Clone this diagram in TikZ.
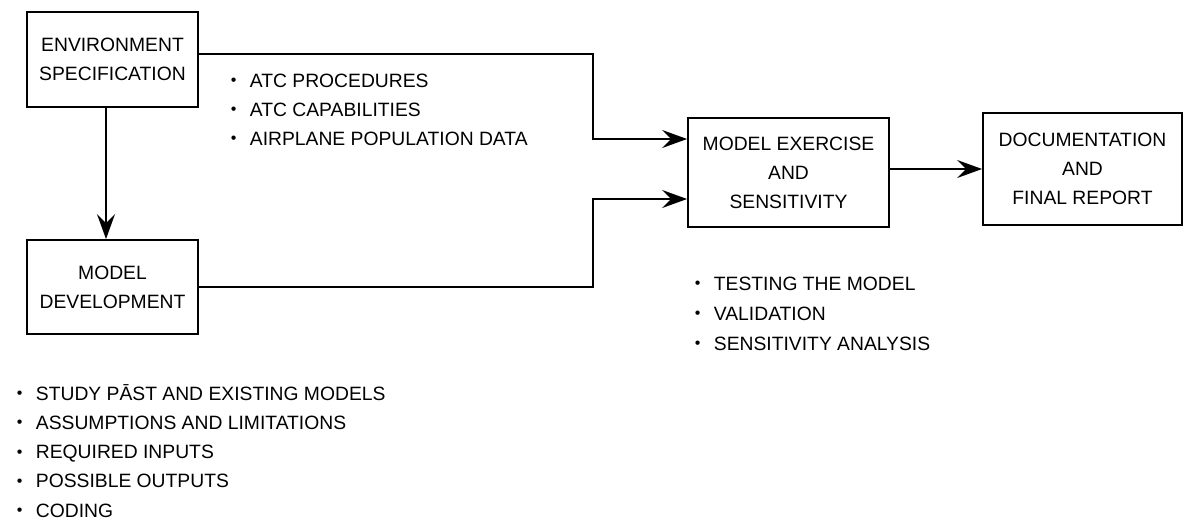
\documentclass[tikz,border=0pt]{standalone}
\usepackage{fontspec}
\setmainfont{Liberation Sans}
\usetikzlibrary{arrows.meta}
\newcommand{\itm}{\makebox[19pt][l]{\raisebox{1.4pt}{\fontsize{16}{16}\selectfont •}}}

\begin{document}
\begin{tikzpicture}[x = 1pt, y = -1pt, line width = 1.8pt,
		blok/.style = {draw, align = center, inner sep = 0pt, font = \fontsize{19.3}{29}\selectfont},
		item/.style = {anchor = base west, inner sep = 0pt, font = \fontsize{19.3}{23}\selectfont},
		arr/.style = {-{Stealth[length = 25pt, width = 18pt, inset = 9pt]}}]
		\useasboundingbox (0, 0) rectangle (1185, 527);
		\node[blok, minimum width = 171pt, minimum height = 95pt] (env) at (112.5, 59.5) {ENVIRONMENT\\SPECIFICATION};
		\node[blok, minimum width = 171pt, minimum height = 94pt] (md) at (112.5, 287) {MODEL\\DEVELOPMENT};
		\node[blok, minimum width = 201pt, minimum height = 109pt] (mex) at (788.5, 172.5) {MODEL EXERCISE\\AND\\SENSITIVITY};
		\node[blok, minimum width = 199pt, minimum height = 112pt] (doc) at (1082.5, 169) {DOCUMENTATION\\AND\\FINAL REPORT};
		% corners of the connectors
		\coordinate (k0) at (106, 0);
		\coordinate (k1) at (593, 54);
		\coordinate (k2) at (593, 139);
		\coordinate (k4) at (593, 199);
		\draw[arr] (env.south -| k0) -- (md.north -| k0);
		\draw[arr] (env.east |- k1) -- (k1) -- (k2) -- (mex.west |- k2);
		\draw[arr] (md.east) -| (k4) -- (mex.west |- k4);
		\draw[arr] (mex.east |- doc.west) -- (doc.west);
		% lists
		\foreach \t [count = \i from 0] in {ATC PROCEDURES, ATC CAPABILITIES, AIRPLANE POPULATION DATA}
			\node[item] (inp\i) at (230, 87 + 29*\i) {\itm\t};
		\foreach \t [count = \i from 0] in {TESTING THE MODEL, VALIDATION, SENSITIVITY ANALYSIS}
			\node[item] (tst\i) at (694, 290 + 30*\i) {\itm\t};
		\foreach \t [count = \i from 0] in {STUDY PĀST AND EXISTING MODELS, ASSUMPTIONS AND LIMITATIONS, REQUIRED INPUTS, POSSIBLE OUTPUTS, CODING}
			\node[item] (dev\i) at (16, 400 + 29.3*\i) {\itm\t};
	\end{tikzpicture}
\end{document}
